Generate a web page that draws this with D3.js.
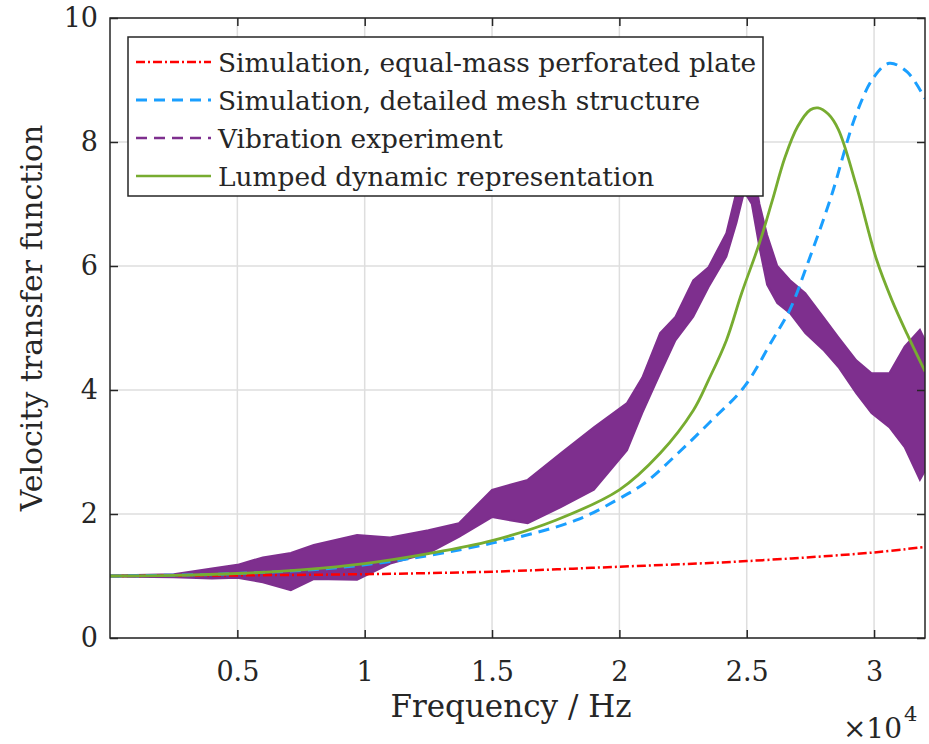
<!DOCTYPE html>
<html>
<head>
  <title>Velocity transfer function</title>
  <script src="https://d3js.org/d3.v7.min.js"></script>
  <style>
    body { margin: 0; background: #fff; }
    svg text { font-family: "DejaVu Serif", serif; fill: #262626; }
  </style>
</head>
<body>
<svg id="chart" width="929" height="744"></svg>
<script type="text/javascript">

// frequency in units of 1e4 Hz
var xTicks = [0.5, 1, 1.5, 2, 2.5, 3];
var yTicks = [0, 2, 4, 6, 8, 10];

var seriesNames = [
  "Simulation, equal-mass perforated plate",
  "Simulation, detailed mesh structure",
  "Vibration experiment",
  "Lumped dynamic representation"
];

var plateF = [0, 0.5, 1.0, 1.5, 2.0, 2.5, 3.0, 3.2];
var plateV = [1.0, 1.01, 1.03, 1.07, 1.15, 1.24, 1.38, 1.47];

var meshF = [0, 0.5, 1.0, 1.5, 1.83, 2.0, 2.1, 2.23, 2.36, 2.49, 2.6, 2.67, 2.74, 2.83, 2.93, 3.0, 3.06, 3.13, 3.2];
var meshV = [1.0, 1.04, 1.18, 1.53, 1.9, 2.25, 2.5, 2.98, 3.5, 4.05, 4.8, 5.3, 6.05, 7.1, 8.45, 9.05, 9.27, 9.13, 8.7];

var lumpF = [0, 0.25, 0.5, 0.75, 1.0, 1.25, 1.5, 1.75, 2.0, 2.16, 2.29, 2.35, 2.42, 2.48, 2.55, 2.6, 2.65, 2.7, 2.75, 2.78, 2.82, 2.86, 2.93, 3.01, 3.07, 3.13, 3.2];
var lumpV = [1.0, 1.01, 1.04, 1.1, 1.2, 1.36, 1.57, 1.9, 2.39, 2.98, 3.67, 4.16, 4.8, 5.56, 6.37, 7.05, 7.75, 8.25, 8.52, 8.55, 8.45, 8.2, 7.3, 6.1, 5.45, 4.9, 4.3];

// experiment: noisy band, upper and lower envelope
var expF = [0, 0.25, 0.4, 0.5, 0.6, 0.71, 0.8, 0.97, 1.1, 1.25, 1.37, 1.5, 1.64, 1.77, 1.9, 2.03, 2.09, 2.16, 2.22, 2.29, 2.35, 2.42, 2.46, 2.49, 2.52, 2.55, 2.58, 2.62, 2.67, 2.73, 2.8, 2.86, 2.93, 2.99, 3.06, 3.12, 3.18, 3.2];
var expHi = [1.01, 1.03, 1.12, 1.18, 1.3, 1.37, 1.5, 1.66, 1.62, 1.74, 1.85, 2.39, 2.55, 2.98, 3.4, 3.79, 4.2, 4.92, 5.18, 5.77, 5.98, 6.53, 7.2, 7.8, 7.7, 7.0, 6.5, 6.0, 5.77, 5.56, 5.18, 4.85, 4.48, 4.27, 4.27, 4.7, 4.97, 4.8];
var expLo = [0.99, 0.98, 0.96, 0.97, 0.9, 0.77, 0.95, 0.94, 1.2, 1.37, 1.63, 1.95, 1.85, 2.11, 2.39, 3.03, 3.63, 4.27, 4.8, 5.18, 5.66, 6.15, 6.7, 7.2, 7.0, 6.3, 5.7, 5.4, 5.24, 4.92, 4.65, 4.37, 3.95, 3.63, 3.4, 3.08, 2.55, 2.7];

var colors = ["#ff0000", "#1a9fff", "#7e2f8e", "#77ac30"];
var dashes = ["9,3,2,3", "11,7", "11,7", null];

var margin = {left: 110, right: 4, top: 18, bottom: 106};
var W = 929, H = 744;

var svg = d3.select("#chart");

var x = d3.scaleLinear().domain([0, 3.2]).range([margin.left, W - margin.right]);
var y = d3.scaleLinear().domain([0, 10]).range([H - margin.bottom, margin.top]);

var x0 = x.range()[0], x1 = x.range()[1], y0 = y.range()[0], y1 = y.range()[1];

svg.append("defs").append("clipPath").attr("id", "clip")
  .append("rect").attr("x", x0).attr("y", y1).attr("width", x1 - x0).attr("height", y0 - y1);

// grid
var grid = svg.append("g").attr("stroke", "#dedede").attr("stroke-width", 1.5);
grid.selectAll(".gx").data(xTicks).enter().append("line")
  .attr("x1", d => x(d)).attr("x2", d => x(d)).attr("y1", y0).attr("y2", y1);
grid.selectAll(".gy").data(yTicks).enter().append("line")
  .attr("y1", d => y(d)).attr("y2", d => y(d)).attr("x1", x0).attr("x2", x1);

var plot = svg.append("g").attr("clip-path", "url(#clip)");

function pts(fs, vs) { return fs.map((f, i) => [f, vs[i]]); }
var line = d3.line().x(d => x(d[0])).y(d => y(d[1])).curve(d3.curveCatmullRom);

// experiment band
var band = expF.map((f, i) => ({f: f, hi: expHi[i], lo: expLo[i]}));
plot.append("path").datum(band)
  .attr("fill", colors[2]).attr("stroke", colors[2]).attr("stroke-width", 2)
  .attr("d", d3.area().x(d => x(d.f)).y0(d => y(d.lo)).y1(d => y(d.hi)));

plot.append("path").datum(pts(plateF, plateV))
  .attr("fill", "none").attr("stroke", colors[0]).attr("stroke-width", 2.5)
  .attr("stroke-dasharray", dashes[0]).attr("d", line);

plot.append("path").datum(pts(meshF, meshV))
  .attr("fill", "none").attr("stroke", colors[1]).attr("stroke-width", 3)
  .attr("stroke-dasharray", dashes[1]).attr("d", line);

plot.append("path").datum(pts(lumpF, lumpV))
  .attr("fill", "none").attr("stroke", colors[3]).attr("stroke-width", 2.8)
  .attr("d", line);

// axes, ticks point inward
svg.append("g").attr("transform", "translate(0," + y0 + ")")
  .call(d3.axisBottom(x).tickValues(xTicks).tickSize(-8).tickPadding(24).tickFormat(d3.format("")))
  .call(g => g.select(".domain").remove())
  .call(g => g.selectAll("text").attr("font-size", 27).attr("font-family", "DejaVu Serif").attr("fill", "#262626"));
svg.append("g").attr("transform", "translate(0," + y1 + ")")
  .call(d3.axisTop(x).tickValues(xTicks).tickSize(-8).tickFormat(""))
  .call(g => g.select(".domain").remove());
svg.append("g").attr("transform", "translate(" + x0 + ",0)")
  .call(d3.axisLeft(y).tickValues(yTicks).tickSize(-8).tickPadding(12))
  .call(g => g.select(".domain").remove())
  .call(g => g.selectAll("text").attr("font-size", 27).attr("font-family", "DejaVu Serif").attr("fill", "#262626"));
svg.append("g").attr("transform", "translate(" + x1 + ",0)")
  .call(d3.axisRight(y).tickValues(yTicks).tickSize(-8).tickFormat(""))
  .call(g => g.select(".domain").remove());
svg.selectAll(".tick line").attr("stroke", "#262626").attr("stroke-width", 1.5);

svg.append("rect").attr("x", x0).attr("y", y1).attr("width", x1 - x0).attr("height", y0 - y1)
  .attr("fill", "none").attr("stroke", "#262626").attr("stroke-width", 1.5);

// labels
svg.append("text").attr("x", 511).attr("y", 717).attr("text-anchor", "middle")
  .attr("font-size", 31).text("Frequency / Hz");
svg.append("text").attr("transform", "translate(42,318) rotate(-90)")
  .attr("text-anchor", "middle").attr("font-size", 30).text("Velocity transfer function");
svg.append("text").attr("x", 902).attr("y", 738).attr("text-anchor", "end").attr("font-size", 28).text("×10");
svg.append("text").attr("x", 904).attr("y", 721).attr("font-size", 21).text("4");

// legend
var lg = svg.append("g");
lg.append("rect").attr("x", 128).attr("y", 37).attr("width", 635).attr("height", 159)
  .attr("fill", "#fff").attr("stroke", "#262626").attr("stroke-width", 1.5);
var rows = lg.selectAll(".row").data(seriesNames).enter().append("g")
  .attr("transform", (d, i) => "translate(0," + (62 + i * 38) + ")");
rows.append("line").attr("x1", 136).attr("x2", 211)
  .attr("stroke", (d, i) => colors[i]).attr("stroke-width", (d, i) => i == 1 ? 3 : 2.5)
  .attr("stroke-dasharray", (d, i) => dashes[i]);
rows.append("text").attr("x", 218).attr("dy", "0.36em").attr("font-size", 26.4).text(d => d);

</script>
</body>
</html>
